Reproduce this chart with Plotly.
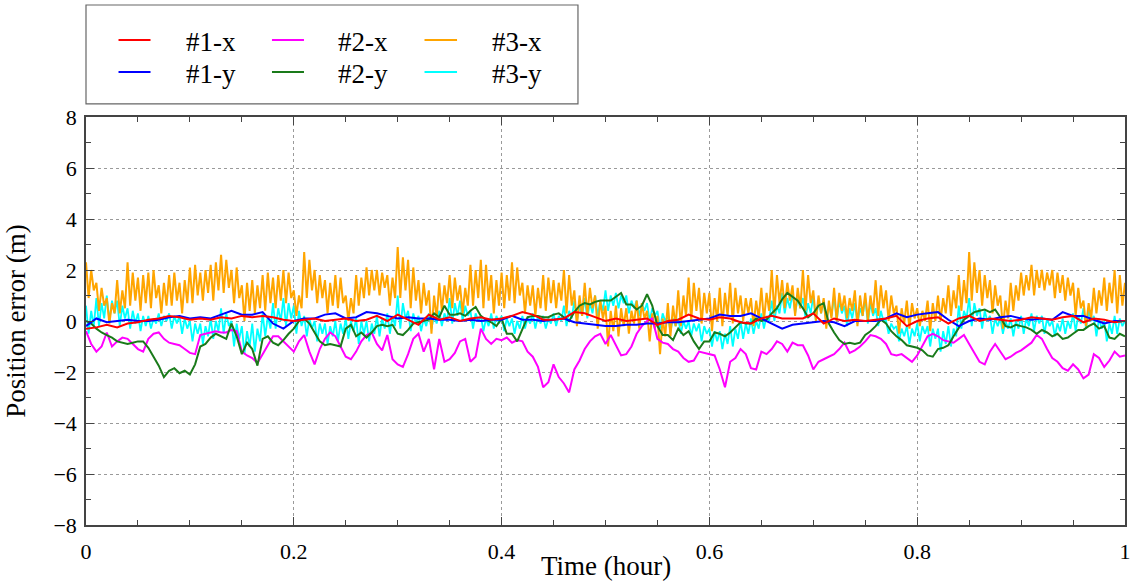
import numpy as np
import plotly.graph_objects as go

# sample times (hour)
t_coarse = np.linspace(0, 1, 101)
t_mid = np.linspace(0, 1, 201)
t_fine = np.linspace(0, 1, 401)

x_tick_vals = [0, 0.2, 0.4, 0.6, 0.8, 1]
x_tick_text = ["0", "0.2", "0.4", "0.6", "0.8", "1"]
y_tick_vals = [-8, -6, -4, -2, 0, 2, 4, 6, 8]

# #1-x (red)
err_1x = [-0.3, -0.25, -0.15, -0.25, -0.1, -0.05, 0.05, 0.1, 0.2, 0.15,
          0.05, 0.1, 0.05, 0.15, 0.1, 0.2, 0.15, 0.2, 0.15, 0.05,
          0.0, 0.05, 0.1, 0.0, 0.05, 0.1, 0.0, 0.05, 0.2, 0.0,
          0.25, 0.05, -0.15, 0.25, 0.05, 0.15, 0.0, 0.1, 0.15, 0.05,
          0.1, 0.2, 0.35, 0.25, 0.05, 0.05, 0.1, 0.35, 0.3, 0.15,
          0.0, 0.1, 0.0, 0.05, 0.1, -0.15, 0.0, 0.05, 0.25, 0.1,
          0.05, 0.15, 0.1, -0.05, -0.1, 0.1, 0.2, 0.1, 0.1, 0.1,
          0.3, -0.1, 0.1, 0.0, 0.05, 0.0, 0.05, 0.1, 0.2, -0.2,
          0.0, 0.1, 0.15, -0.1, 0.1, 0.2, 0.0, 0.1, 0.05, 0.0,
          0.05, 0.15, 0.1, 0.05, 0.15, 0.2, -0.05, 0.1, 0.05, -0.05,
          0.0]

# #1-y (blue)
err_1y = [-0.2, 0.1, -0.05, 0.0, 0.05, 0.0, 0.0, 0.05, 0.15, 0.2,
          0.1, 0.15, 0.1, 0.25, 0.4, 0.25, 0.25, 0.35, -0.1, -0.3,
          0.0, 0.1, 0.1, 0.25, 0.3, 0.1, 0.15, 0.35, 0.3, 0.2,
          0.1, 0.15, 0.1, 0.1, 0.05, 0.05, 0.0, 0.05, 0.0, 0.05,
          0.05, 0.2, 0.05, 0.05, 0.0, 0.05, 0.1, -0.05, -0.1, -0.15,
          -0.2, -0.2, -0.15, -0.15, -0.1, -0.1, -0.05, -0.05, 0.0, 0.05,
          0.1, 0.25, 0.2, 0.2, 0.3, 0.1, -0.1, -0.3, -0.15, -0.1,
          -0.05, 0.0, -0.05, -0.2, 0.0, 0.0, 0.0, 0.1, 0.3, 0.15,
          0.25, 0.3, 0.35, 0.05, -0.2, 0.0, 0.1, 0.05, 0.15, 0.2,
          0.1, 0.05, 0.1, 0.05, 0.35, 0.2, 0.2, 0.05, -0.1, 0.0,
          0.0]

# #2-x (magenta)
err_2x = [-0.4, -0.9, -1.2, -1.0, -0.45, -1.0, -0.8, -0.65, -0.7, -0.9,
          -1.1, -1.2, -0.7, -0.5, -0.45, -0.7, -0.85, -0.9, -0.95, -1.1,
          -1.25, -1.3, -0.55, -0.5, -0.45, -0.4, -0.45, -0.45, -0.35, -0.4,
          -1.2, -1.35, -1.45, -1.65, -1.3, -0.95, -0.6, -0.6, -0.8, -1.0,
          -1.2, -0.8, -0.55, -1.2, -1.7, -1.1, -0.7, -0.45, -0.6, -1.0,
          -1.4, -1.5, -1.2, -0.8, -0.55, -0.45, -0.9, -1.15, -0.55, -1.5,
          -1.7, -1.8, -1.3, -0.7, -0.5, -1.2, -0.7, -1.9, -0.7, -1.6,
          -1.5, -1.25, -0.8, -0.7, -1.6, -1.4, -0.3, -0.7, -0.9, -0.7,
          -0.75, -0.65, -0.85, -0.75, -0.8, -1.2, -1.4, -1.8, -2.6, -2.4,
          -1.7, -2.2, -2.45, -2.8, -1.9, -1.55, -1.1, -0.8, -0.6, -0.5,
          -0.9, -0.55, -0.95, -1.35, -1.3, -1.0, -0.5, -0.2, 0.0, 0.1,
          -0.7, -0.85, -0.9, -1.1, -1.2, -1.45, -1.6, -1.55, -1.2, -1.25,
          -1.3, -1.35, -1.9, -2.6, -1.6, -1.45, -1.1, -1.3, -1.85, -1.9,
          -1.2, -1.3, -1.1, -0.8, -0.9, -1.2, -0.85, -0.95, -0.95, -1.35,
          -1.9, -1.6, -1.5, -1.4, -1.3, -1.1, -0.85, -1.25, -1.15, -1.0,
          -0.8, -0.55, -0.6, -0.7, -0.9, -1.3, -1.35, -1.3, -1.45, -1.6,
          -1.35, -1.0, -0.6, -0.5, -0.6, -0.75, -0.8, -0.85, -0.7, -0.55,
          -0.9, -1.25, -1.6, -1.7, -1.2, -0.9, -1.2, -1.5, -1.4, -1.25,
          -1.15, -1.0, -0.85, -0.55, -0.7, -1.1, -1.45, -1.6, -1.85, -1.95,
          -1.7, -1.9, -2.25, -2.1, -1.3, -1.45, -1.8, -1.55, -1.2, -1.4,
          -1.35]

# #2-y (green)
err_2y = [0.0, -0.1, -0.3, -0.45, -0.55, -0.65, -0.8, -0.85, -0.9, -0.85,
          -0.8, -0.8, -1.05, -1.4, -1.75, -2.2, -1.95, -1.85, -2.05, -1.95,
          -2.1, -1.7, -1.0, -0.9, -0.65, -0.5, -0.6, -0.7, -0.1, -0.6,
          -1.3, -0.85, -1.1, -1.75, -0.7, -0.6, -0.85, -0.95, -0.75, -0.5,
          -0.3, 0.0, 0.1, -0.1, -0.45, -0.8, -0.95, -0.9, -0.95, -1.0,
          -0.3, -0.15, -0.6, -0.45, -0.65, -0.45, -0.2, -0.15, -0.2, -0.15,
          -0.5, -0.55, -0.35, -0.1, -0.05, 0.0, 0.05, 0.3, 0.15, 0.6,
          0.25, 0.25, 0.3, 0.2, 0.4, 0.55, 0.2, 0.05, -0.05, -0.2,
          0.1, -0.5, -0.5, -0.8, -0.3, 0.15, 0.2, 0.2, 0.15, 0.15,
          0.25, 0.3, 0.15, 0.0, 0.35, 0.6, 0.7, 0.65, 0.75, 0.8,
          0.8, 0.8, 0.95, 1.1, 0.65, 0.65, 0.45, 0.6, 1.05, 0.6,
          -0.2, -0.55, -0.55, -0.75, -0.3, -0.55, -0.4, -0.8, -1.1, -0.8,
          -0.8, -0.45, -0.5, -0.6, -0.45, -0.25, -0.05, -0.1, -0.1, 0.1,
          0.0, 0.05, 0.3, 0.5, 0.85, 1.1, 0.95, 0.8, 0.5, 0.15,
          0.3, 0.6, 0.7, -0.1, -0.45, -0.75, -0.9, -0.85, -0.9, -0.85,
          -0.55, -0.4, -0.2, 0.05, -0.1, -0.4, -0.6, -0.75, -0.95, -1.0,
          -1.05, -1.15, -1.35, -1.4, -1.1, -1.05, -0.95, -0.6, -0.3, 0.05,
          0.2, 0.35, 0.4, 0.45, 0.35, 0.45, 0.15, -0.2, -0.25, -0.15,
          -0.2, -0.25, -0.35, -0.5, -0.35, -0.45, -0.6, -0.5, -0.7, -0.65,
          -0.5, -0.35, -0.35, -0.2, -0.1, -0.3, -0.2, -0.65, -0.7, -0.5,
          -0.6]

# #3-x (orange)
err_3x = [2.3, 0.9, 2.0, 1.2, 1.5, 0.4, 1.3, 0.6, 0.9, -0.1, 0.7, 0.3, 1.6, 0.3, 1.2, 0.5, 2.3, 0.6, 1.9, 0.8,
          1.7, 0.4, 1.8, 0.7, 1.9, 0.5, 2.0, 0.9, 1.4, 0.3, 1.5, 0.6, 1.8, 0.6, 1.9, 0.8, 1.5, 0.3, 1.6, 0.7,
          2.1, 0.7, 2.2, 1.0, 1.9, 0.8, 2.0, 1.1, 2.2, 0.8, 2.3, 1.2, 2.6, 1.1, 2.4, 1.3, 2.0, 0.7, 2.1, 0.9,
          1.4, 0.0, 1.5, 0.4, 1.6, 0.3, 1.4, 0.5, 1.8, 0.4, 1.9, 0.7, 1.7, 0.5, 1.8, 0.8, 2.0, 0.7, 1.9, 0.9,
          1.2, 0.2, 1.0, 0.5, 2.7, 0.9, 2.4, 1.2, 2.0, 0.7, 1.8, 0.9, 1.6, 0.3, 1.5, 0.6, 1.8, 0.5, 1.7, 0.7,
          1.0, 0.0, 0.9, 0.3, 1.8, 0.6, 1.7, 0.9, 2.1, 1.0, 2.0, 1.2, 2.0, 1.0, 1.9, 1.3, 1.8, 0.6, 1.7, 0.9,
          2.9, 0.9, 2.5, 1.2, 2.4, 0.5, 2.1, 0.8, 1.6, 0.3, 1.5, 0.6, 1.2, -0.5, 1.0, 0.1, 1.5, 0.4, 1.4, 0.7,
          1.8, 0.5, 1.7, 0.8, 1.4, 0.3, 1.3, 0.6, 2.2, 0.6, 2.0, 0.9, 2.4, 0.5, 2.2, 0.8, 1.8, 0.3, 1.6, 0.6,
          1.9, 0.5, 1.8, 0.8, 2.3, 0.7, 2.1, 1.0, 1.5, 0.3, 1.4, 0.6, 1.4, 0.2, 1.3, 0.5, 1.8, 0.4, 1.7, 0.7,
          1.6, 0.5, 1.5, 0.8, 2.0, 0.3, 1.8, 0.6, 1.2, -0.2, 1.0, 0.2, 1.5, 0.2, 1.3, 0.5, 1.0, -0.3, 0.8, 0.1,
          0.6, -1.0, 0.4, -0.4, 0.6, -0.6, 0.5, -0.2, 0.5, -0.5, 0.4, -0.1, 0.8, -0.3, 0.7, 0.1, 0.4, -0.8, 0.3, -0.3,
          0.2, -1.3, 0.1, -0.6, 0.7, -0.6, 0.6, -0.2, 1.2, -0.2, 1.0, 0.2, 1.7, 0.0, 1.5, 0.4, 1.3, -0.1, 1.1, 0.3,
          1.1, -0.4, 0.9, 0.0, 1.3, -0.2, 1.1, 0.2, 1.5, -0.1, 1.3, 0.3, 1.0, 0.0, 0.9, 0.3, 0.9, -0.2, 0.8, 0.1,
          1.3, 0.0, 1.1, 0.4, 2.0, 0.3, 1.8, 0.7, 1.6, 0.5, 1.5, 0.8, 1.4, 0.2, 1.3, 0.5, 2.0, 0.4, 1.8, 0.7,
          1.2, 0.0, 1.0, 0.3, 0.9, -0.3, 0.8, 0.1, 1.3, 0.0, 1.1, 0.4, 1.0, 0.1, 0.9, 0.4, 1.2, -0.2, 1.0, 0.2,
          1.1, 0.0, 1.0, 0.3, 1.6, 0.2, 1.4, 0.5, 1.2, 0.0, 1.0, 0.3, 0.6, -0.5, 0.5, -0.1, 0.8, -0.3, 0.7, 0.1,
          0.5, -0.2, 0.4, 0.0, 0.8, -0.4, 0.7, 0.0, 1.0, 0.0, 0.9, 0.3, 1.4, 0.2, 1.2, 0.5, 1.8, 0.4, 1.6, 0.7,
          2.7, 0.8, 2.3, 1.1, 2.0, 0.6, 1.8, 0.9, 1.6, 0.3, 1.4, 0.6, 1.0, -0.3, 0.8, 0.1, 1.5, 0.4, 1.4, 0.8,
          1.9, 1.0, 1.8, 1.2, 2.2, 1.0, 2.0, 1.3, 2.0, 1.2, 1.9, 1.4, 2.0, 0.9, 1.9, 1.1, 1.8, 0.8, 1.7, 1.0,
          1.5, 0.2, 1.3, 0.5, 0.8, -0.2, 0.7, 0.1, 1.3, 0.3, 1.2, 0.6, 1.7, 0.4, 1.5, 0.7, 2.0, 0.3, 1.8, 0.6,
          1.5]

# #3-y (cyan)
err_3y = [0.6, -0.5, 0.4, -0.2, 0.9, -0.2, 0.7, 0.1, 1.0, 0.0, 0.8, 0.3, 0.8, -0.2, 0.6, 0.1, 0.5, -0.3, 0.4, -0.1,
          0.3, -0.4, 0.2, -0.2, 0.2, -0.3, 0.1, -0.1, 0.3, -0.2, 0.2, 0.0, 0.3, -0.3, 0.2, -0.1, 0.2, -0.5, 0.1, -0.3,
          0.0, -0.8, -0.1, -0.5, -0.1, -0.9, -0.2, -0.6, 0.1, -0.7, 0.0, -0.4, 0.5, -0.5, 0.3, -0.2, 0.0, -1.0, -0.1, -0.7,
          -0.2, -1.3, -0.4, -1.0, -0.1, -1.2, -0.3, -0.8, 0.3, -0.6, 0.2, -0.3, 0.7, -0.3, 0.5, 0.0, 0.9, -0.2, 0.7, 0.1,
          0.6, -0.5, 0.4, -0.2, 0.2, -0.6, 0.1, -0.3, 0.0, -0.8, -0.1, -0.5, -0.1, -0.9, -0.2, -0.6, 0.0, -0.8, -0.1, -0.5,
          0.1, -0.7, 0.0, -0.4, 0.1, -0.9, 0.0, -0.5, 0.0, -0.8, -0.1, -0.5, 0.2, -0.6, 0.1, -0.3, 0.3, -0.5, 0.2, -0.2,
          1.0, -0.3, 0.7, 0.1, 0.4, -0.4, 0.3, -0.1, 0.2, -0.4, 0.1, -0.2, 0.3, -0.3, 0.2, -0.1, 0.4, -0.2, 0.3, 0.0,
          0.9, -0.1, 0.7, 0.2, 0.8, 0.0, 0.6, 0.2, 0.4, -0.3, 0.3, 0.0, 0.2, -0.4, 0.1, -0.2, 0.3, -0.3, 0.2, -0.1,
          0.2, -0.4, 0.1, -0.2, 0.1, -0.5, 0.0, -0.3, 0.2, -0.3, 0.1, -0.1, 0.3, -0.3, 0.2, -0.1, 0.2, -0.3, 0.1, -0.1,
          0.3, -0.2, 0.2, 0.0, 0.6, -0.2, 0.4, 0.1, 0.8, 0.0, 0.6, 0.2, 0.9, 0.1, 0.7, 0.3, 1.0, 0.2, 0.8, 0.4,
          1.2, 0.4, 1.0, 0.6, 1.1, 0.5, 1.0, 0.7, 1.0, 0.3, 0.8, 0.5, 0.8, 0.2, 0.7, 0.4, 0.7, 0.0, 0.5, 0.2,
          0.4, -0.3, 0.3, 0.0, 0.2, -0.4, 0.1, -0.2, 0.1, -0.5, 0.0, -0.3, 0.0, -0.6, -0.1, -0.4, -0.1, -0.8, -0.2, -0.5,
          -0.3, -1.0, -0.4, -0.8, -0.4, -1.1, -0.5, -0.9, -0.2, -1.0, -0.3, -0.7, 0.0, -0.7, -0.1, -0.5, 0.1, -0.5, 0.0, -0.3,
          0.3, -0.3, 0.2, 0.0, 0.8, 0.0, 0.6, 0.3, 1.1, 0.3, 0.9, 0.5, 1.1, 0.3, 0.9, 0.5, 0.9, 0.1, 0.7, 0.3,
          1.0, 0.0, 0.8, 0.3, 0.8, -0.1, 0.6, 0.2, 1.0, 0.0, 0.8, 0.3, 0.6, -0.2, 0.5, 0.1, 0.7, -0.1, 0.5, 0.2,
          0.9, -0.1, 0.7, 0.2, 0.5, -0.2, 0.4, 0.0, 0.0, -0.5, -0.1, -0.3, -0.2, -0.8, -0.3, -0.6, -0.2, -0.9, -0.3, -0.6,
          -0.1, -0.8, -0.2, -0.5, -0.2, -1.0, -0.3, -0.7, -0.3, -1.2, -0.4, -0.9, -0.2, -1.0, -0.3, -0.6, 0.6, -0.3, 0.4, 0.1,
          0.9, -0.2, 0.7, 0.2, 0.5, -0.3, 0.4, 0.0, 0.2, -0.5, 0.1, -0.2, 0.1, -0.5, 0.0, -0.3, 0.1, -0.6, 0.0, -0.3,
          0.2, -0.5, 0.1, -0.2, 0.3, -0.4, 0.2, -0.1, 0.2, -0.5, 0.1, -0.2, 0.0, -0.6, -0.1, -0.4, 0.1, -0.5, 0.0, -0.3,
          0.3, -0.4, 0.2, -0.1, 0.5, -0.3, 0.4, 0.0, 0.2, -0.6, 0.1, -0.3, 0.0, -0.8, -0.1, -0.5, 0.2, -0.5, 0.1, -0.2,
          0.0]

FONT = "Liberation Serif, Times New Roman, serif"

# drawing order (bottom -> top)
series = [
    ("#3-y", t_fine, err_3y, "#00ffff", 1.8),
    ("#3-x", t_fine, err_3x, "#ffa500", 2.0),
    ("#2-x", t_mid, err_2x, "#ff00ff", 2),
    ("#2-y", t_mid, err_2y, "#1a7a1a", 2),
    ("#1-y", t_coarse, err_1y, "#0000ff", 2),
    ("#1-x", t_coarse, err_1x, "#ff0000", 2),
]
colors = {s[0]: s[3] for s in series}

fig = go.Figure()
for name, x, y, color, w in series:
    fig.add_trace(go.Scatter(x=x, y=y, mode="lines", name=name,
                             line=dict(color=color, width=w), showlegend=False))

# legend drawn in a framed box above the plot (3 columns x 2 rows)
legend_layout = [["#1-x", "#2-x", "#3-x"], ["#1-y", "#2-y", "#3-y"]]
col_line_x = [(0.0313, 0.0621), (0.1790, 0.2098), (0.3258, 0.3571)]
col_text_x = [0.0943, 0.2406, 0.3888]
row_y = [1.1887, 1.1103]

shapes = [dict(type="rect", xref="paper", yref="paper",
               x0=0, x1=0.4735, y0=1.032, y1=1.2745,
               line=dict(color="#666666", width=1.2))]
annotations = []
for r, row in enumerate(legend_layout):
    for c, name in enumerate(row):
        shapes.append(dict(type="line", xref="paper", yref="paper",
                           x0=col_line_x[c][0], x1=col_line_x[c][1],
                           y0=row_y[r], y1=row_y[r],
                           line=dict(color=colors[name], width=2)))
        annotations.append(dict(text=name, xref="paper", yref="paper",
                                x=col_text_x[c], y=row_y[r] - 0.004,
                                xanchor="left", yanchor="middle", showarrow=False,
                                font=dict(family=FONT, size=27, color="black")))

annotations.append(dict(text="Time (hour)", xref="paper", yref="paper",
                        x=0.5, y=-0.1, xanchor="center", yanchor="middle",
                        showarrow=False, font=dict(family=FONT, size=27, color="black")))

fig.update_layout(
    width=1133, height=582,
    margin=dict(l=86, r=8, t=117, b=57, autoexpand=False),
    paper_bgcolor="white", plot_bgcolor="white",
    font=dict(family=FONT, size=22, color="black"),
    showlegend=False,
    shapes=shapes,
    annotations=annotations,
)

axis_common = dict(showline=True, linecolor="#444444", linewidth=1.5, mirror="allticks",
                   ticks="inside", ticklen=8, tickcolor="#444444", tickwidth=1,
                   showgrid=True, gridcolor="#9a9a9a", griddash="dot", gridwidth=1,
                   zeroline=False, tickfont=dict(family=FONT, size=22, color="black"))

fig.update_xaxes(range=[0, 1], tickmode="array", tickvals=x_tick_vals, ticktext=x_tick_text,
                 ticklabelstandoff=6,
                 minor=dict(dtick=0.05, tick0=0, ticks="inside", ticklen=5,
                            tickcolor="#444444", showgrid=False),
                 **axis_common)
fig.update_yaxes(range=[-8, 8], tickmode="array", tickvals=y_tick_vals,
                 ticklabelstandoff=3,
                 minor=dict(dtick=1, tick0=0, ticks="inside", ticklen=5,
                            tickcolor="#444444", showgrid=False),
                 title=dict(text="Position error (m)", font=dict(family=FONT, size=27), standoff=20),
                 **axis_common)

fig.write_html("out.html", config={"displayModeBar": False},
               post_script="document.body.style.margin='0';document.body.style.overflow='hidden';")
